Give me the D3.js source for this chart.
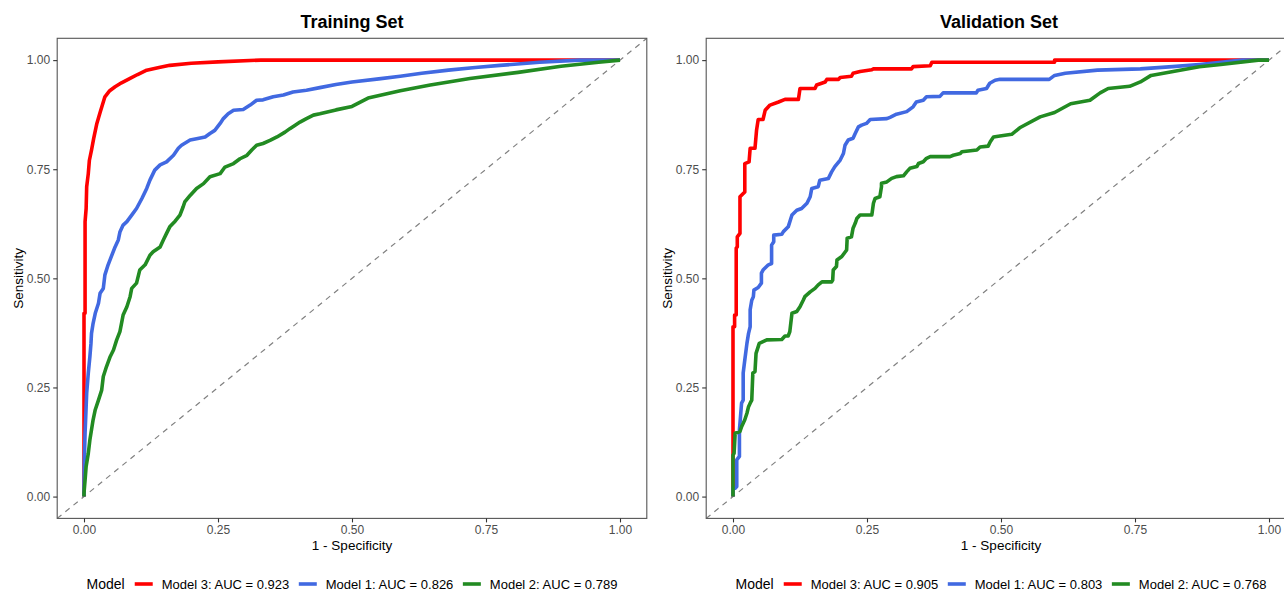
<!DOCTYPE html>
<html><head><meta charset="utf-8">
<script src="https://cdn.jsdelivr.net/npm/d3@7"></script>
<style>body{margin:0;background:#fff}svg{display:block}text{font-family:"Liberation Sans",Arial,sans-serif}</style>
</head><body><svg id="c" width="1284" height="592"></svg>
<script>
const tickValues = [0, 0.25, 0.5, 0.75, 1];
const plotTitles = ["Training Set", "Validation Set"];
const modelNames = ["Model 3", "Model 1", "Model 2"];
const trainAUC = ["0.923", "0.826", "0.789"];
const validAUC = ["0.905", "0.803", "0.768"];
const seriesColors = ["#FF0000", "#4169E1", "#228B22"];

// [1 - specificity, sensitivity]
const trainM3 = [[0,0],[0,0.42],[0.002,0.42],[0.002,0.63],[0.004,0.66],[0.005,0.71],[0.008,0.74],[0.01,0.77],[0.014,0.794],[0.018,0.82],[0.024,0.855],[0.03,0.88],[0.039,0.916],[0.048,0.93],[0.058,0.939],[0.07,0.948],[0.086,0.958],[0.1,0.967],[0.117,0.977],[0.14,0.983],[0.16,0.988],[0.2,0.993],[0.25,0.996],[0.33,1.0],[1,1]];
const trainM1 = [[0,0],[0,0.023],[0.0006,0.084],[0.002,0.145],[0.004,0.206],[0.005,0.237],[0.008,0.283],[0.011,0.321],[0.013,0.351],[0.014,0.374],[0.017,0.397],[0.021,0.42],[0.027,0.443],[0.03,0.466],[0.036,0.477],[0.039,0.508],[0.045,0.531],[0.052,0.553],[0.058,0.572],[0.064,0.588],[0.067,0.606],[0.073,0.622],[0.08,0.63],[0.089,0.645],[0.098,0.66],[0.108,0.683],[0.117,0.706],[0.123,0.725],[0.132,0.748],[0.142,0.76],[0.154,0.767],[0.167,0.782],[0.176,0.798],[0.182,0.805],[0.198,0.817],[0.21,0.82],[0.226,0.824],[0.235,0.832],[0.244,0.839],[0.254,0.855],[0.26,0.866],[0.269,0.877],[0.279,0.885],[0.297,0.887],[0.31,0.897],[0.322,0.908],[0.334,0.909],[0.353,0.916],[0.372,0.92],[0.39,0.927],[0.415,0.931],[0.44,0.937],[0.47,0.944],[0.5,0.95],[0.55,0.957],[0.59,0.963],[0.63,0.97],[0.68,0.977],[0.73,0.983],[0.776,0.988],[0.85,0.995],[0.925,1.0],[1,1]];
const trainM2 = [[0,0],[0,0.008],[0.002,0.038],[0.004,0.069],[0.008,0.099],[0.011,0.13],[0.014,0.153],[0.017,0.176],[0.021,0.199],[0.027,0.221],[0.033,0.244],[0.036,0.275],[0.042,0.298],[0.049,0.321],[0.055,0.336],[0.061,0.359],[0.067,0.378],[0.07,0.397],[0.073,0.416],[0.08,0.435],[0.086,0.458],[0.089,0.477],[0.098,0.489],[0.104,0.519],[0.114,0.531],[0.123,0.553],[0.129,0.561],[0.142,0.572],[0.148,0.588],[0.154,0.603],[0.16,0.618],[0.17,0.631],[0.179,0.645],[0.185,0.664],[0.188,0.675],[0.198,0.69],[0.21,0.706],[0.223,0.717],[0.235,0.733],[0.254,0.74],[0.263,0.755],[0.279,0.763],[0.291,0.774],[0.304,0.782],[0.313,0.794],[0.322,0.805],[0.334,0.809],[0.347,0.816],[0.36,0.824],[0.375,0.835],[0.384,0.843],[0.394,0.851],[0.403,0.858],[0.415,0.866],[0.428,0.874],[0.44,0.877],[0.47,0.886],[0.5,0.894],[0.53,0.913],[0.59,0.93],[0.646,0.943],[0.72,0.958],[0.81,0.972],[0.89,0.986],[0.96,0.995],[1,1]];

const validM3 = [[0,0],[0,0.389],[0.003,0.389],[0.003,0.416],[0.006,0.416],[0.006,0.569],[0.008,0.572],[0.008,0.595],[0.013,0.603],[0.013,0.687],[0.022,0.698],[0.022,0.763],[0.03,0.767],[0.032,0.798],[0.041,0.798],[0.044,0.84],[0.047,0.864],[0.056,0.864],[0.06,0.885],[0.069,0.897],[0.085,0.904],[0.097,0.91],[0.122,0.91],[0.125,0.935],[0.153,0.935],[0.156,0.943],[0.172,0.95],[0.175,0.956],[0.197,0.956],[0.2,0.96],[0.221,0.963],[0.224,0.97],[0.237,0.974],[0.259,0.978],[0.262,0.98],[0.333,0.98],[0.336,0.985],[0.368,0.987],[0.371,0.995],[0.6,0.995],[0.6,1],[1,1]];
const validM1 = [[0,0],[0,0.019],[0.004,0.019],[0.007,0.023],[0.007,0.084],[0.012,0.092],[0.012,0.153],[0.014,0.183],[0.016,0.214],[0.019,0.221],[0.019,0.283],[0.022,0.313],[0.026,0.351],[0.029,0.374],[0.032,0.389],[0.032,0.428],[0.035,0.45],[0.038,0.458],[0.039,0.473],[0.047,0.479],[0.053,0.489],[0.053,0.512],[0.056,0.519],[0.066,0.531],[0.072,0.534],[0.072,0.576],[0.076,0.584],[0.076,0.599],[0.091,0.601],[0.094,0.607],[0.103,0.618],[0.11,0.645],[0.119,0.656],[0.128,0.66],[0.138,0.672],[0.144,0.687],[0.147,0.706],[0.159,0.71],[0.162,0.725],[0.178,0.729],[0.184,0.744],[0.19,0.756],[0.2,0.771],[0.206,0.786],[0.209,0.805],[0.215,0.817],[0.224,0.821],[0.228,0.832],[0.234,0.847],[0.24,0.851],[0.249,0.855],[0.256,0.864],[0.287,0.866],[0.293,0.869],[0.305,0.876],[0.324,0.882],[0.336,0.893],[0.342,0.904],[0.355,0.908],[0.361,0.916],[0.386,0.917],[0.392,0.925],[0.454,0.925],[0.457,0.931],[0.473,0.935],[0.479,0.947],[0.489,0.954],[0.498,0.956],[0.59,0.956],[0.6,0.965],[0.62,0.97],[0.68,0.977],[0.76,0.98],[0.82,0.985],[0.87,0.99],[0.95,1],[1,1]];
const validM2 = [[0,0],[0,0.095],[0.002,0.099],[0.004,0.145],[0.013,0.149],[0.016,0.16],[0.022,0.176],[0.026,0.191],[0.029,0.206],[0.032,0.214],[0.035,0.221],[0.037,0.283],[0.041,0.286],[0.043,0.328],[0.049,0.351],[0.056,0.355],[0.063,0.359],[0.091,0.36],[0.097,0.368],[0.103,0.368],[0.106,0.378],[0.11,0.42],[0.119,0.424],[0.125,0.435],[0.131,0.45],[0.134,0.458],[0.144,0.469],[0.153,0.477],[0.159,0.485],[0.166,0.492],[0.184,0.492],[0.186,0.496],[0.187,0.519],[0.193,0.527],[0.194,0.542],[0.203,0.55],[0.212,0.565],[0.213,0.592],[0.221,0.595],[0.224,0.615],[0.228,0.626],[0.231,0.637],[0.237,0.645],[0.259,0.645],[0.262,0.672],[0.265,0.683],[0.274,0.687],[0.277,0.71],[0.277,0.718],[0.287,0.721],[0.296,0.729],[0.305,0.733],[0.318,0.735],[0.324,0.744],[0.33,0.752],[0.343,0.756],[0.346,0.763],[0.355,0.767],[0.361,0.775],[0.368,0.779],[0.405,0.779],[0.411,0.782],[0.424,0.786],[0.427,0.79],[0.455,0.794],[0.461,0.801],[0.476,0.803],[0.48,0.813],[0.486,0.824],[0.498,0.826],[0.52,0.83],[0.535,0.845],[0.573,0.87],[0.6,0.88],[0.63,0.9],[0.666,0.908],[0.685,0.925],[0.7,0.935],[0.74,0.94],[0.76,0.95],[0.78,0.965],[0.834,0.977],[0.87,0.985],[0.91,0.99],[0.98,1],[1,1]];

const svg = d3.select("#c");
const fmt = d3.format(".2f");

function drawPlot(idx, series, aucs, left, titleX) {
  const x = d3.scaleLinear().domain([-0.05, 1.05]).range([left, left + 589.6]);
  const y = d3.scaleLinear().domain([-0.05, 1.05]).range([518.4, 38.3]);
  const g = svg.append("g");
  const clipId = "clip" + idx;
  svg.append("clipPath").attr("id", clipId).append("rect")
    .attr("x", x(-0.05)).attr("y", y(1.05)).attr("width", x(1.05) - x(-0.05)).attr("height", y(-0.05) - y(1.05));
  const panel = g.append("g").attr("clip-path", `url(#${clipId})`);
  panel.append("line")
    .attr("x1", x(-0.05)).attr("y1", y(-0.05)).attr("x2", x(1.05)).attr("y2", y(1.05))
    .attr("stroke", "#808080").attr("stroke-width", 1.2).attr("stroke-dasharray", "5.5,5");
  const line = d3.line().x(d => x(d[0])).y(d => y(d[1]));
  series.forEach((s, i) => {
    panel.append("path").attr("d", line(s)).attr("fill", "none")
      .attr("stroke", seriesColors[i]).attr("stroke-width", 3.6)
      .attr("stroke-linejoin", "round");
  });
  g.append("rect").attr("x", x(-0.05)).attr("y", y(1.05))
    .attr("width", x(1.05) - x(-0.05)).attr("height", y(-0.05) - y(1.05))
    .attr("fill", "none").attr("stroke", "#555").attr("stroke-width", 1.1);
  const xa = g.append("g").attr("transform", `translate(0,${y(-0.05)})`)
    .call(d3.axisBottom(x).tickValues(tickValues).tickFormat(fmt).tickSize(4).tickPadding(3));
  const ya = g.append("g").attr("transform", `translate(${x(-0.05)},0)`)
    .call(d3.axisLeft(y).tickValues(tickValues).tickFormat(fmt).tickSize(4).tickPadding(3));
  [xa, ya].forEach(a => {
    a.select(".domain").remove();
    a.selectAll(".tick line").attr("stroke", "#333").attr("stroke-width", 1.1);
    a.selectAll(".tick text").attr("fill", "#4D4D4D").style("font-size", "12px")
      .style("font-family", '"Liberation Sans",Arial,sans-serif');
  });
  g.append("text").attr("x", titleX).attr("y", 28).attr("text-anchor", "middle")
    .style("font-size", "18px").style("font-weight", "bold").text(plotTitles[idx]);
  const cx = (x(-0.05) + x(1.05)) / 2;
  g.append("text").attr("x", cx).attr("y", 550).attr("text-anchor", "middle")
    .style("font-size", "13.5px").text("1 - Specificity");
  g.append("text").attr("transform", `translate(${x(-0.05) - 34},${(y(-0.05) + y(1.05)) / 2}) rotate(-90)`)
    .attr("text-anchor", "middle").style("font-size", "13.5px").text("Sensitivity");
  // legend
  const lg = g.append("g");
  let cur = 0;
  const t = lg.append("text").attr("x", cur).attr("y", 589).style("font-size", "14px").text("Model");
  cur += t.node().getComputedTextLength() + 10;
  modelNames.forEach((m, i) => {
    lg.append("line").attr("x1", cur).attr("x2", cur + 18).attr("y1", 584).attr("y2", 584)
      .attr("stroke", seriesColors[i]).attr("stroke-width", 3.6);
    cur += 27;
    const tt = lg.append("text").attr("x", cur).attr("y", 588.5).style("font-size", "13px")
      .text(`${m}: AUC = ${aucs[i]}`);
    cur += tt.node().getComputedTextLength() + (i < 2 ? 9.5 : 0);
  });
  lg.attr("transform", `translate(${cx - cur / 2},0)`);
}

drawPlot(0, [trainM3, trainM1, trainM2], trainAUC, 57.2, 352);
drawPlot(1, [validM3, validM1, validM2], validAUC, 706.2, 999);
</script></body></html>
